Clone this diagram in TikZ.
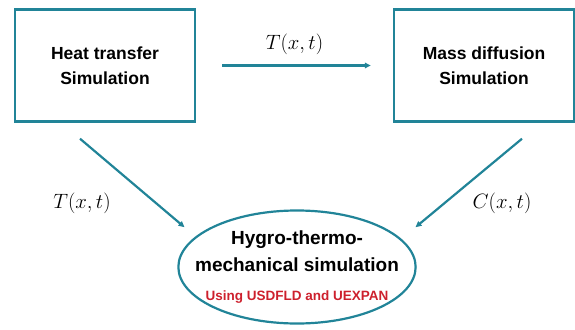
\documentclass[tikz,border=0pt]{standalone}
\usepackage[no-math]{fontspec}
\setmainfont{Liberation Sans}
\usepackage{tikz,xcolor}
\usetikzlibrary{shapes.geometric,arrows.meta}

\definecolor{tealline}{RGB}{33,132,152}
\definecolor{notered}{RGB}{205,32,45}

\tikzset{
  box/.style={draw=tealline, line width=2.4pt, minimum width=180pt, minimum height=112pt,
    align=center, font=\bfseries\fontsize{17.5}{25}\selectfont},
  flow/.style={draw=tealline, line width=2.2pt, -{Triangle[length=6pt,width=5.5pt]}},
  lbl/.style={font=\fontsize{21}{23}\selectfont}
}

\begin{document}
\begin{tikzpicture}[x=1pt, y=-1pt]

\useasboundingbox (0,0) rectangle (575,329);

% 定义节点
\node[box] (heat) at (105,65.5) {Heat transfer\\Simulation};
\node[box] (mass) at (484,65.5) {Mass diffusion\\Simulation};
\node[draw=tealline, line width=2.2pt, ellipse, inner xsep=-18pt, inner ysep=0pt,
  minimum width=230pt, minimum height=113pt,
  align=center, font=\bfseries\fontsize{19}{27}\selectfont] (hygro) at (297,267)
  {Hygro-thermo-\\mechanical simulation\\[2pt]{\color{notered}\fontsize{13.5}{15}\selectfont Using USDFLD and UEXPAN}};

% 连接节点
\draw[flow, shorten <=26pt, shorten >=22pt] (heat) -- node[midway, above=6pt, lbl] {$T(x,t)$} (mass);
\draw[flow] ([shift={(-25,16)}]heat.south) -- ([shift={(-17,-5)}]hygro.160);
\draw[flow] ([shift={(38,16)}]mass.south) -- ([shift={(23,-5)}]hygro.20);

% 标签
\node[lbl] (tlabel) at (82,203) {$T(x,t)$};
\node[lbl] (clabel) at (502,203) {$C(x,t)$};

\end{tikzpicture}
\end{document}
